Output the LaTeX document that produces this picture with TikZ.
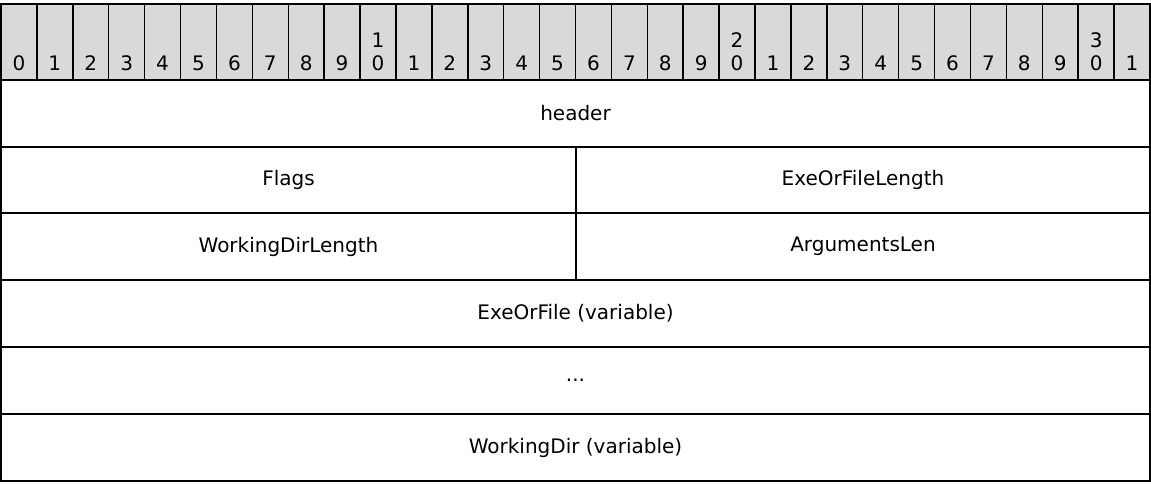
\documentclass[tikz,border=0pt]{standalone}
\usepackage{fontspec}
\setmainfont{DejaVu Sans}
\definecolor{hdrgray}{RGB}{217,217,217}
\tikzset{
  grid/.style={line width=1.1pt},
  bitlbl/.style={anchor=base,inner sep=0pt,font=\fontsize{15}{18}\selectfont},
  fieldlbl/.style={inner sep=0pt,font=\fontsize{15}{18}\selectfont}
}
\begin{document}
\begin{tikzpicture}[x=0.75pt,y=0.75pt,yscale=-1,xscale=1]
\useasboundingbox (0,0) rectangle (1151,483);

% bit numbers row
\draw [grid,fill=hdrgray] (1,4) rectangle (1150,80);
\foreach \i in {1,...,31} {
  \draw [grid] ({1+35.906*\i},4) -- ({1+35.906*\i},80);
}
\foreach \i in {0,...,31} {
  \pgfmathtruncatemacro\d{mod(\i,10)}
  \pgfmathtruncatemacro\t{div(\i,10)}
  \node (b\i) [bitlbl] at ({1+35.906*\i+17.95},70) {\d};
  \ifnum\d=0 \ifnum\t>0
    \node (bt\i) [bitlbl] at ({1+35.906*\i+17.95},47) {\t};
  \fi\fi
}

% fields
\draw [grid] (1,80) rectangle (1150,481);
\foreach \y in {147,213,280,347,414} {
  \draw [grid] (1,\y) -- (1150,\y);
}
\draw [grid] (576,147) -- (576,280);

\node (hdr) [fieldlbl] at (575.5,113.5) {header};
\node (flags) [fieldlbl] at (288.5,180) {Flags};
\node (exelen) [fieldlbl] at (863,180) {ExeOrFileLength};
\node (wdlen) [fieldlbl] at (288.5,246.5) {WorkingDirLength};
\node (arglen) [fieldlbl] at (863,246.5) {ArgumentsLen};
\node (exe) [fieldlbl] at (575.5,313.5) {ExeOrFile (variable)};
\node (dots) [fieldlbl] at (575.5,380.5) {...};
\node (wd) [fieldlbl] at (575.5,447.5) {WorkingDir (variable)};

\end{tikzpicture}
\end{document}
